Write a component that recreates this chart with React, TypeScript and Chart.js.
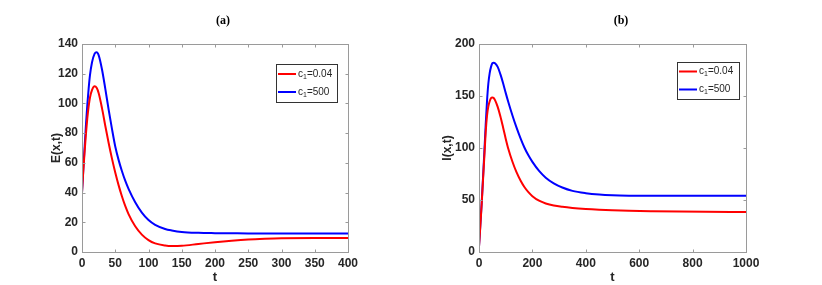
import React, { useEffect, useRef } from "react";
import { Chart, registerables } from "chart.js";
Chart.register(...registerables);

// Panel (a): E(x,t)
const tE = [0, 2, 4, 6, 8, 10, 12, 15, 19, 22, 25, 30, 35, 40, 45, 50, 55, 60, 65, 70, 80, 90, 100, 110, 125, 135, 150, 175, 200, 225, 250, 275, 300, 350, 400];
const redE = [40, 55, 68, 80, 90, 98, 104, 109, 111.5, 110.5, 107, 97, 85, 73.5, 63, 53.5, 45, 37.5, 31, 25.5, 17.3, 11.7, 8, 5.8, 4.4, 4.05, 4.2, 5.4, 6.6, 7.6, 8.4, 8.9, 9.25, 9.5, 9.5];
const blueE = [40, 56, 71, 86, 99, 110, 119, 127.5, 133.5, 134.5, 132.5, 123, 110, 96, 83, 71, 62, 54.5, 48, 42.5, 33.5, 26.5, 21.5, 18.3, 15.5, 14.5, 13.5, 12.9, 12.7, 12.6, 12.5, 12.5, 12.5, 12.5, 12.5];

// Panel (b): I(x,t)
const tI = [0, 5, 10, 15, 20, 25, 30, 35, 40, 45, 50, 55, 60, 70, 80, 90, 100, 110, 125, 140, 156, 170, 185, 200, 225, 250, 280, 312, 350, 400, 450, 500, 562, 650, 750, 850, 1000];
const redI = [5, 25, 46, 69, 92, 115, 131, 140, 145, 148, 148.5, 148, 146, 139.5, 130.5, 120, 109, 99, 87, 77, 68.5, 62.5, 57.5, 53.7, 49.3, 46.7, 44.7, 43.4, 42.3, 41.3, 40.6, 40.1, 39.6, 39.2, 38.9, 38.7, 38.5];
const blueI = [5, 26, 47, 71, 96, 122, 145, 162, 172, 178, 181.5, 182, 181.5, 178, 171, 162.5, 153, 144, 131.5, 120, 109, 100.5, 93, 86.7, 78, 71.5, 66, 62, 58.8, 56.6, 55.3, 54.6, 54.2, 54, 54, 54, 54];

const legendValues = ["0.04", "500"];
const seriesColors = ["#ff0000", "#0000ff"];

type PanelCfg = {
  title: string;
  titleX: number;
  yTitle: string;
  t: number[];
  red: number[];
  blue: number[];
  xMax: number;
  xStep: number;
  yMax: number;
  yStep: number;
  padRight: number;
  yAxisWidth: number;
  yTitlePad: number;
  legend: { x: number; y: number; w: number; h: number };
};

const panels: PanelCfg[] = [
  {
    title: "(a)", titleX: 223, yTitle: "E(x,t)", t: tE, red: redE, blue: blueE,
    xMax: 400, xStep: 50, yMax: 140, yStep: 20, padRight: 63, yAxisWidth: 82, yTitlePad: 51,
    legend: { x: 276, y: 64, w: 61, h: 38 },
  },
  {
    title: "(b)", titleX: 210, yTitle: "I(x,t)", t: tI, red: redI, blue: blueI,
    xMax: 1000, xStep: 200, yMax: 200, yStep: 50, padRight: 76, yAxisWidth: 68, yTitlePad: 31,
    legend: { x: 266, y: 61.5, w: 62, h: 36.5 },
  },
];

function makePlugin(cfg: PanelCfg) {
  return {
    id: "matlabDecor",
    afterDatasetsDraw(chart: any) {
      const { ctx, chartArea: a, scales } = chart;
      const x = scales.x, y = scales.y;
      ctx.save();
      ctx.strokeStyle = "#9a9a9a";
      ctx.lineWidth = 1;
      const L = Math.round(a.left) + 0.5, R = Math.round(a.right) + 0.5;
      const T = Math.round(a.top) + 0.5, B = Math.round(a.bottom) + 0.5;
      ctx.strokeRect(L, T, R - L, B - T);
      ctx.beginPath();
      x.ticks.forEach((tk: any) => {
        const px = Math.round(x.getPixelForValue(tk.value)) + 0.5;
        ctx.moveTo(px, B); ctx.lineTo(px, B - 3);
        ctx.moveTo(px, T); ctx.lineTo(px, T + 3);
      });
      y.ticks.forEach((tk: any) => {
        const py = Math.round(y.getPixelForValue(tk.value)) + 0.5;
        ctx.moveTo(L, py); ctx.lineTo(L + 3, py);
        ctx.moveTo(R, py); ctx.lineTo(R - 3, py);
      });
      ctx.stroke();

      ctx.fillStyle = "#000";
      ctx.font = "bold 12px 'Liberation Serif'";
      ctx.textAlign = "center";
      ctx.textBaseline = "middle";
      ctx.fillText(cfg.title, cfg.titleX, 21);

      const lg = cfg.legend;
      ctx.fillStyle = "#fff";
      ctx.fillRect(lg.x, lg.y, lg.w, lg.h);
      ctx.strokeStyle = "#333";
      ctx.strokeRect(Math.round(lg.x) + 0.5, Math.round(lg.y) + 0.5, Math.round(lg.w), Math.round(lg.h));
      const rows = [lg.y + 10, lg.y + 28];
      rows.forEach((ry, i) => {
        ctx.strokeStyle = seriesColors[i];
        ctx.lineWidth = 2;
        ctx.beginPath();
        ctx.moveTo(lg.x + 2, ry);
        ctx.lineTo(lg.x + 20, ry);
        ctx.stroke();
        ctx.fillStyle = "#262626";
        ctx.textAlign = "left";
        ctx.textBaseline = "middle";
        ctx.font = "10px 'Liberation Sans'";
        let tx = lg.x + 22;
        ctx.fillText("c", tx, ry);
        tx += ctx.measureText("c").width;
        ctx.font = "7px 'Liberation Sans'";
        ctx.fillText("1", tx, ry + 3);
        tx += ctx.measureText("1").width;
        ctx.font = "10px 'Liberation Sans'";
        ctx.fillText("=" + legendValues[i], tx, ry);
      });
      ctx.restore();
    },
  };
}

function Panel({ cfg }: { cfg: PanelCfg }) {
  const ref = useRef<HTMLCanvasElement | null>(null);
  useEffect(() => {
    if (!ref.current) return;
    const tickFont = { family: "'Liberation Sans'", size: 12, weight: "bold" as const };
    const chart = new Chart(ref.current, {
      type: "line",
      data: {
        datasets: [
          {
            label: "c1=" + legendValues[0],
            data: cfg.t.map((t, i) => ({ x: t, y: cfg.red[i] })),
            borderColor: seriesColors[0],
            borderWidth: 2,
            pointRadius: 0,
            cubicInterpolationMode: "monotone",
            fill: false,
          },
          {
            label: "c1=" + legendValues[1],
            data: cfg.t.map((t, i) => ({ x: t, y: cfg.blue[i] })),
            borderColor: seriesColors[1],
            borderWidth: 2,
            pointRadius: 0,
            cubicInterpolationMode: "monotone",
            fill: false,
          },
        ],
      },
      options: {
        animation: false,
        responsive: false,
        maintainAspectRatio: false,
        layout: { padding: { left: 0, top: 44, right: cfg.padRight, bottom: 0 } },
        plugins: { legend: { display: false }, tooltip: { enabled: false }, title: { display: false } },
        scales: {
          x: {
            type: "linear",
            min: 0,
            max: cfg.xMax,
            grid: { display: false, drawTicks: false },
            border: { display: false },
            ticks: { stepSize: cfg.xStep, color: "#262626", font: tickFont, padding: 4, maxRotation: 0, callback: (v: any) => String(v) },
            title: { display: true, text: "t", color: "#262626", font: { family: "'Liberation Sans'", size: 13, weight: "bold", lineHeight: 1 }, padding: { top: 0, bottom: 1 } },
            afterFit: (s: any) => { s.height = 285 - 252; },
          },
          y: {
            type: "linear",
            min: 0,
            max: cfg.yMax,
            grid: { display: false, drawTicks: false },
            border: { display: false },
            ticks: { stepSize: cfg.yStep, color: "#262626", font: tickFont, padding: 4, callback: (v: any) => String(v) },
            title: { display: true, text: cfg.yTitle, color: "#262626", font: { family: "'Liberation Sans'", size: 12, weight: "bold", lineHeight: 1 }, padding: { top: cfg.yTitlePad, bottom: 0 } },
            afterFit: (s: any) => { s.width = cfg.yAxisWidth; },
          },
        },
      },
      plugins: [makePlugin(cfg)],
    } as any);
    return () => chart.destroy();
  }, [cfg]);
  return <canvas ref={ref} width={411} height={285} style={{ width: 411, height: 285, display: "block" }} />;
}

export default function App() {
  return (
    <div style={{ position: "absolute", left: 0, top: 0, width: 822, height: 285, display: "flex", background: "#fff" }}>
      <Panel cfg={panels[0]} />
      <Panel cfg={panels[1]} />
    </div>
  );
}
